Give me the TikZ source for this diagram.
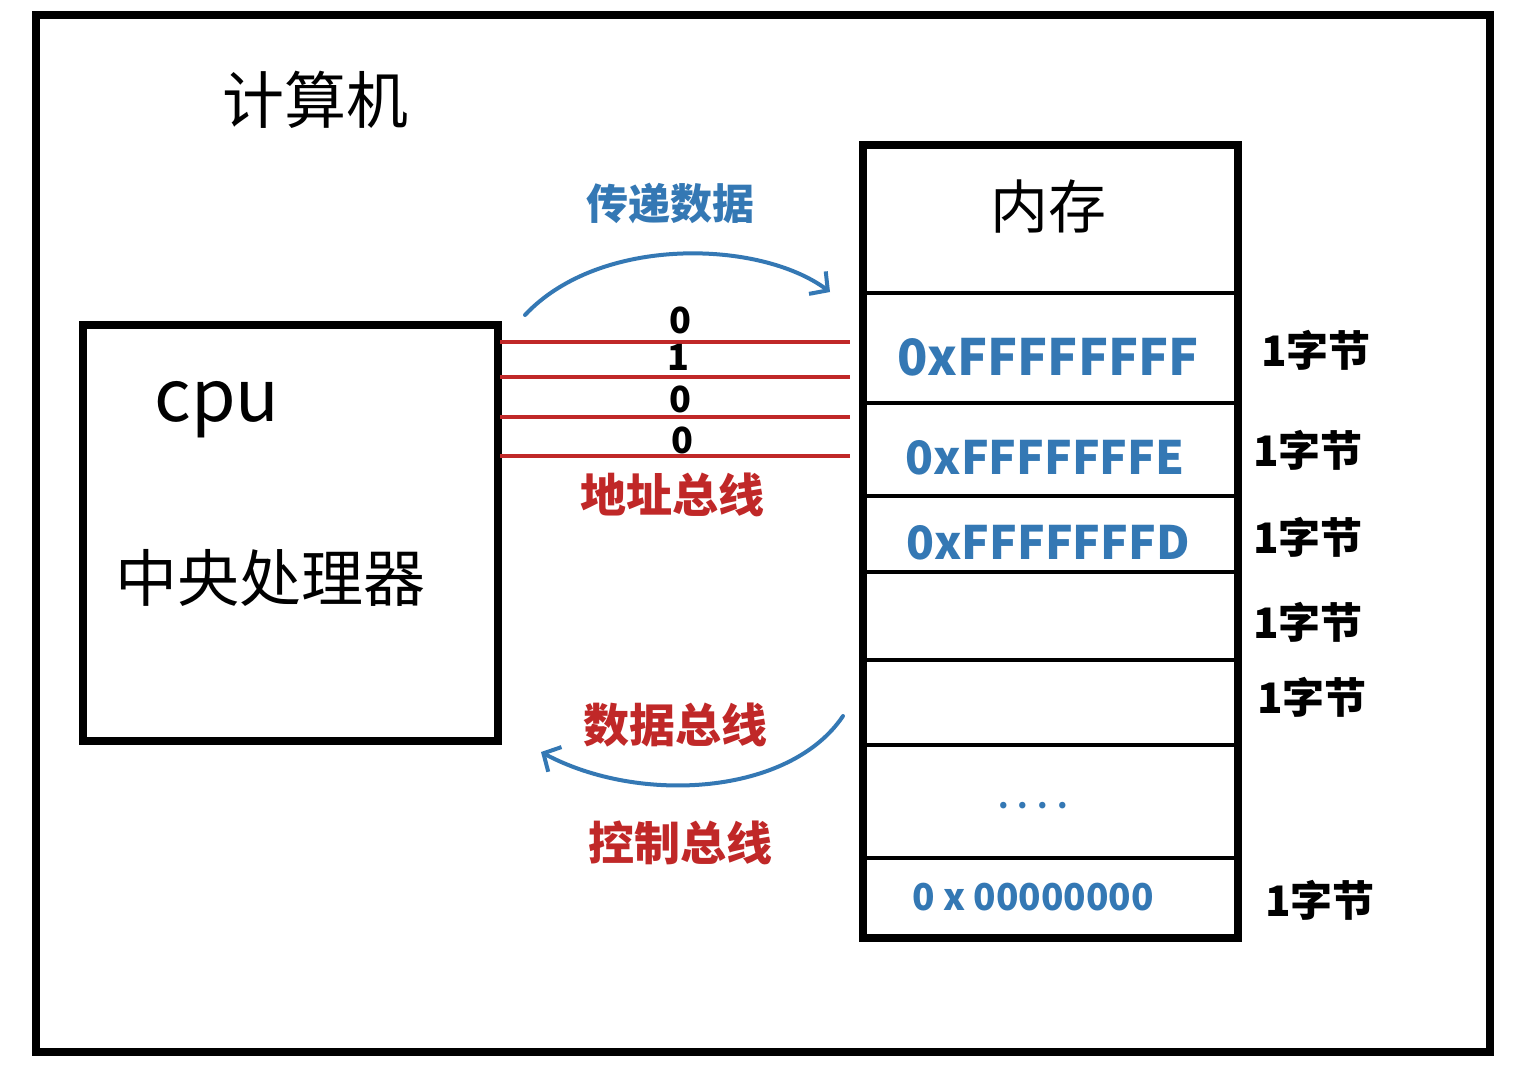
\documentclass[tikz,border=0pt]{standalone}
\usepackage{fontspec}
\setmainfont{Noto Sans CJK SC}
\usetikzlibrary{arrows.meta}
\definecolor{bblue}{RGB}{52,120,180}
\definecolor{bred}{RGB}{192,40,40}
\begin{document}
\begin{tikzpicture}[x=1pt,y=-1pt,
  txt/.style={inner sep=0pt, font=\fontsize{#1}{#1}\selectfont},
  btxt/.style={inner sep=0pt, font=\fontsize{#1}{#1}\selectfont\bfseries},
  frame/.style={draw=black, line width=7.5pt},
  rowline/.style={draw=black, line width=4pt},
  busline/.style={draw=bred, line width=4.5pt},
  flow/.style={draw=bblue, line width=4pt, line cap=round, -{Straight Barb[length=13pt,width=28pt,line width=4pt]}},
  hex/.style={btxt=#1, text=bblue},
  byte/.style={btxt=42, text=black},
  redlab/.style={btxt=46, text=bred},
]
\useasboundingbox[fill=white] (0,0) rectangle (1521,1080);
% outer frame
\node[frame, minimum width=1454pt, minimum height=1037pt, inner sep=0pt] (outer) at (763,533.5) {};
\node[txt=62] (comp) at (315,100) {计算机};
% CPU
\node[frame, minimum width=415pt, minimum height=416pt, inner sep=0pt] (cpu) at (290.5,533) {};
\node[txt=72] (cpulab) at (217,410) {cpu};
\node[txt=62] (cpuname) at (270,578) {中央处理器};
% memory
\node[frame, minimum width=375pt, minimum height=793pt, inner sep=0pt] (mem) at (1050.5,541.5) {};
\foreach \yy/\nm in {293/r1,403/r2,496/r3,572/r4,660/r5,745/r6,858/r7}{
  \coordinate (\nm L) at (863,\yy);
  \coordinate (\nm R) at (1238,\yy);
  \draw[rowline] (\nm L) -- (\nm R);
}
\node[txt=58] (memlab) at (1048,207) {内存};
\node[hex=50] (h1) at (1048,357) {0xFFFFFFFF};
\node[hex=46] (h2) at (1045,458) {0xFFFFFFFE};
\node[hex=46] (h3) at (1048,543) {0xFFFFFFFD};
\node[hex=30] (h4) at (1033,806) {. . . .};
\node[hex=37] (h5) at (1033,897) {0 x 00000000};
\node[byte] (b1) at (1316,350) {1字节};
\node[byte] (b2) at (1308,450) {1字节};
\node[byte] (b3) at (1308,537) {1字节};
\node[byte] (b4) at (1308,622) {1字节};
\node[byte] (b5) at (1312,697) {1字节};
\node[byte] (b6) at (1320,900) {1字节};
% address bus
\foreach \yy/\nm in {342/a1,377/a2,417/a3,456/a4}{
  \coordinate (\nm L) at (500,\yy);
  \coordinate (\nm R) at (850,\yy);
  \draw[busline] (\nm L) -- (\nm R);
}
\node[btxt=36] (bit1) at (680,320) {0};
\node[btxt=36] (bit2) at (678,357) {1};
\node[btxt=36] (bit3) at (680,399) {0};
\node[btxt=36] (bit4) at (682,440) {0};
\node[redlab] (addr) at (672,495) {地址总线};
\node[btxt=42, text=bblue] (pass) at (670,203) {传递数据};
% arcs
\coordinate (t0) at (525,315);
\coordinate (t1) at (830,292);
\draw[flow] (t0) .. controls (600,235) and (760,240) .. (t1);
\coordinate (d0) at (843,716);
\coordinate (d1) at (541,752);
\draw[flow] (d0) .. controls (790,795) and (640,805) .. (d1);
\node[redlab] (dbus) at (675,725) {数据总线};
\node[redlab] (cbus) at (680,843) {控制总线};
\end{tikzpicture}
\end{document}
